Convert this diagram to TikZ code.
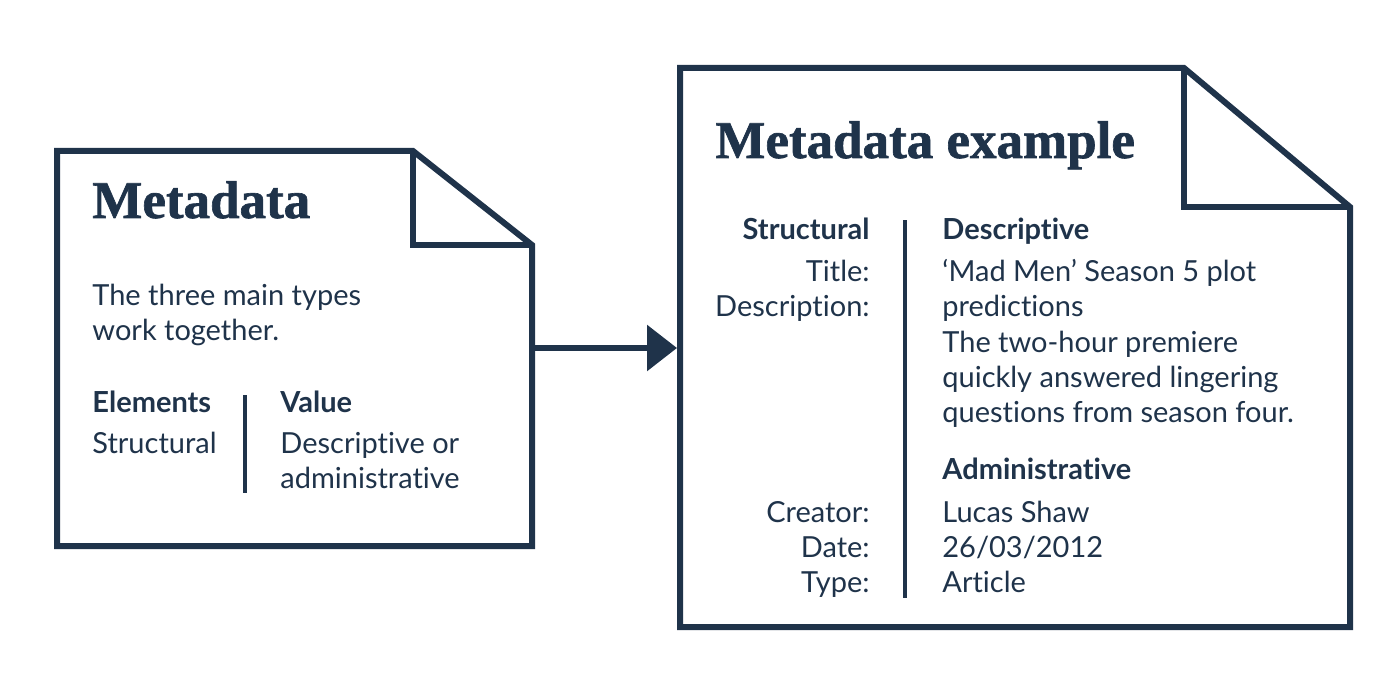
\documentclass[tikz,border=0pt]{standalone}
\usepackage{fontspec}
\setmainfont{Lato}[Ligatures={NoCommon}]
\newfontfamily\headfont{Liberation Serif}[BoldFeatures={FakeBold=1.2}]
\usepackage{xcolor}
\usepackage{tikz}
\usetikzlibrary{arrows.meta}

\definecolor{navy}{HTML}{1F334A}

\tikzset{
    page/.style={draw=navy, line width=3pt},
    rule/.style={draw=navy, line width=2pt},
    txt/.style={text=navy, inner sep=0pt, font=\fontsize{14.5}{17}\selectfont},
    txtb/.style={text=navy, inner sep=0pt, font=\fontsize{14.5}{17}\selectfont\bfseries},
    heading/.style={text=navy, inner sep=0pt, font=\headfont\fontsize{26.5}{30}\selectfont\bfseries},
}

\begin{document}
\begin{tikzpicture}[x=0.5pt, y=-0.5pt]
        \useasboundingbox (0,0) rectangle (1400,700);

        % left page
        \draw[page] (57,151) -- (413,151) -- (532,245) -- (532,546) -- (57,546) -- cycle;
        \draw[page] (413,151) -- (413,245) -- (532,245);

        \node[heading, anchor=base west] (meta) at (92,218) {Metadata};
        \node[txt, anchor=base west] (intro1) at (92,305) {The three main types};
        \node[txt, anchor=base west] (intro2) at (92,340) {work together.};

        \node[txtb, anchor=base west] (elem) at (92,412) {Elements};
        \node[txt, anchor=base west] (elemA) at (92,453) {Structural};
        \node[txtb, anchor=base west] (val) at (280,412) {Value};
        \node[txt, anchor=base west] (valA) at (280,453) {Descriptive or};
        \node[txt, anchor=base west] (valB) at (280,488) {administrative};

        \coordinate (ltop) at (245,395);
        \coordinate (lbot) at (245,493);
        \draw[rule] (ltop) -- (lbot);

        % right page
        \draw[page] (680,68) -- (1184,68) -- (1350,207) -- (1350,627) -- (680,627) -- cycle;
        \draw[page] (1184,68) -- (1184,207) -- (1350,207);

        \node[heading, anchor=base west] (example) at (715,158) {Metadata example};

        \node[txtb, anchor=base east] (struct) at (870,239) {Structural};
        \node[txt, anchor=base east] (title) at (870,281) {Title:};
        \node[txt, anchor=base east] (descr) at (870,316) {Description:};
        \node[txt, anchor=base east] (creator) at (870,522) {Creator:};
        \node[txt, anchor=base east] (date) at (870,557) {Date:};
        \node[txt, anchor=base east] (type) at (870,592) {Type:};

        \node[txtb, anchor=base west] (desc) at (942,239) {Descriptive};
        \node[txt, anchor=base west] (titleA) at (942,281) {‘Mad Men’ Season 5 plot};
        \node[txt, anchor=base west] (titleB) at (942,316) {predictions};
        \node[txt, anchor=base west] (descrA) at (942,352) {The two-hour premiere};
        \node[txt, anchor=base west] (descrB) at (942,387) {quickly answered lingering};
        \node[txt, anchor=base west] (descrC) at (942,422) {questions from season four.};
        \node[txtb, anchor=base west] (admin) at (942,479) {Administrative};
        \node[txt, anchor=base west] (creatorA) at (942,522) {Lucas Shaw};
        \node[txt, anchor=base west] (dateA) at (942,557) {26/03/2012};
        \node[txt, anchor=base west] (typeA) at (942,592) {Article};

        \coordinate (rtop) at (905,220);
        \coordinate (rbot) at (905,598);
        \draw[rule] (rtop) -- (rbot);

        % arrow between pages
        \coordinate (src) at (532,348);
        \coordinate (dst) at (677,348);
        \draw[navy, line width=3pt, -{Triangle[length=15pt, width=22.5pt]}] (src) -- (dst);
\end{tikzpicture}
\end{document}
